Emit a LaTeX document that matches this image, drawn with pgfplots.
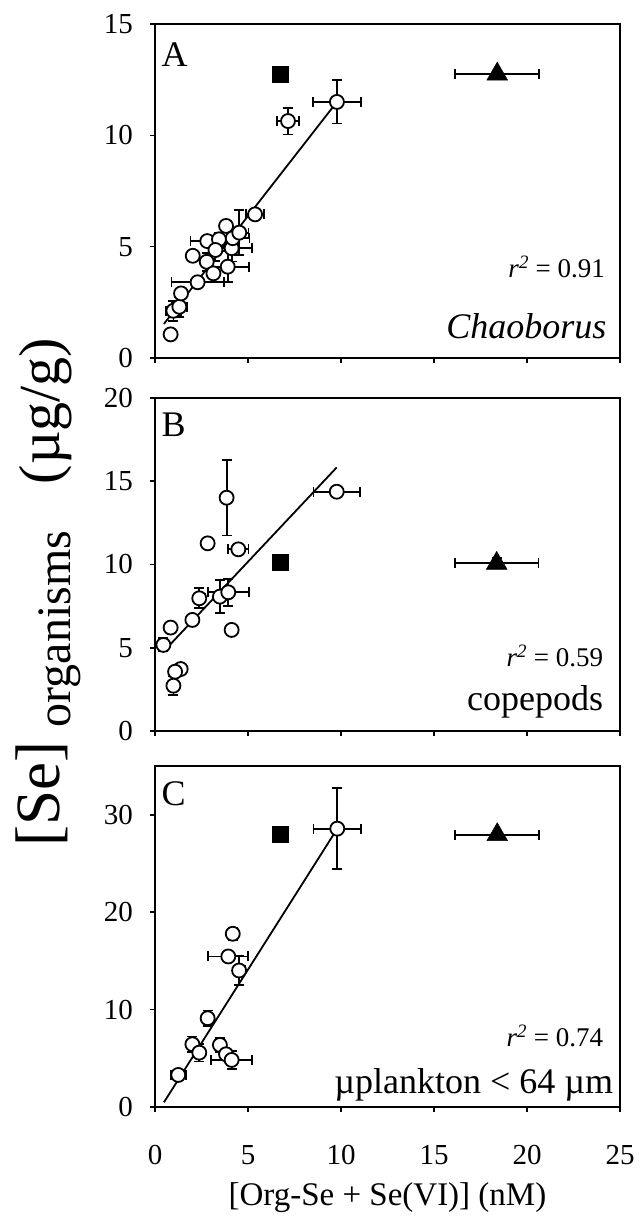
\documentclass[border=0pt]{standalone}
\usepackage{pgfplots}
\pgfplotsset{compat=1.18}
\usepackage{fontspec}
\setmainfont{Liberation Serif}

\pgfplotstableread{
x y ex ey
0.84 1.06 0 0
0.99 2.12 0.4 0.45
1.31 2.30 0.4 0.45
1.40 2.90 0 0
2.29 3.40 1.4 0
2.03 4.59 0 0
2.81 5.25 0.9 0
2.78 4.32 0 0.4
3.14 3.80 0 0
3.44 5.33 0 0.3
3.25 4.85 0 0.5
3.82 5.93 0 0
3.91 4.10 1.15 0.7
4.12 4.93 1.1 0.6
4.18 5.38 0.9 0
4.53 5.63 0.5 1.0
5.38 6.45 0.5 0
7.15 10.64 0.6 0.6
9.78 11.50 1.3 0.97
}\dataA

\pgfplotstableread{
x y ex ey
3.85 14.01 0 2.27
9.77 14.37 1.25 0
2.83 11.27 0 0
4.48 10.91 0.55 0.3
2.38 7.97 0.3 0.6
3.49 8.07 0 1.0
3.94 8.33 1.1 0.8
2.01 6.67 0 0
0.84 6.21 0 0
4.12 6.07 0 0
0.45 5.17 0 0.4
1.38 3.72 0 0
1.08 3.56 0 0.3
0.99 2.72 0 0.55
}\dataB

\pgfplotstableread{
x y ex ey
9.80 28.57 1.28 4.15
4.18 17.78 0 0.6
3.94 15.45 1.07 0.5
4.52 14.01 0.3 1.5
2.83 9.11 0 0.8
2.01 6.44 0 0.8
2.38 5.58 0 0.9
3.49 6.37 0 0.7
3.82 5.41 0 0
4.12 4.83 1.1 0.9
1.25 3.29 0.4 0
}\dataC

\pgfplotsset{
  panel/.style={
    scale only axis, width=465bp,
    xmin=0, xmax=25, xtick={0,5,...,25},
    tick align=outside, xtick pos=left, ytick pos=left,
    major tick length=5bp,
    axis line style={line width=1.6bp},
    every tick/.style={black, line width=1.6bp},
    tick label style={font=\fontsize{29bp}{29bp}\selectfont},
    yticklabel style={inner sep=0pt, anchor=east, xshift=-17bp},
    xticklabel style={inner sep=0pt, anchor=base, yshift=-53bp},
    clip=false,
  },
  ebars/.style={only marks, mark=none,
    error bars/.cd, x dir=both, x explicit, y dir=both, y explicit,
    error bar style={draw=black, line width=1.8bp},
    error mark options={draw=black, line width=1.8bp, mark size=5bp, rotate=90}},
  circ/.style={only marks, mark=*, mark size=7bp,
    mark options={fill=white, draw=black, line width=1.8bp}},
  sq/.style={only marks, mark=square*, mark size=8bp, mark options={fill=black, draw=black}},
  tri/.style={only marks, mark=triangle*, mark size=12bp, mark options={fill=black, draw=black}},
  reg/.style={black, line width=1.8bp, no marks},
}
\tikzset{
  lbl/.style={font=\fontsize{36bp}{36bp}\selectfont, inner sep=0pt},
  rlbl/.style={font=\fontsize{27bp}{27bp}\selectfont, inner sep=0pt, anchor=base east},
}

\begin{document}
\begin{tikzpicture}[x=1bp,y=1bp]
\useasboundingbox (0,0) rectangle (640,1218);

% Panel A
\begin{axis}[panel, at={(155bp,860bp)}, anchor=south west, height=334bp,
  ymin=0, ymax=15, ytick={0,5,10,15}, yticklabels={0,5,10,15}, xticklabels={}]
\addplot[reg] coordinates {(0.48,1.53) (9.78,11.5)};
\addplot[ebars] table[x=x,y=y,x error=ex,y error=ey] {\dataA};
\addplot[ebars] coordinates {(18.4,12.75) +- (2.25,0)};
\addplot[circ] table[x=x,y=y] {\dataA};
\addplot[sq] coordinates {(6.72,12.75)};
\addplot[tri] coordinates {(18.4,12.75)};
\node[lbl, anchor=base west] at (axis cs:0.35,13.08) {A};
\node[rlbl] at (axis cs:24.2,3.62) {\textit{r}\textsuperscript{\textit{2}} = 0.91};
\node[lbl, anchor=base east] at (axis cs:24.28,0.88) {\textit{Chaoborus}};
\end{axis}

% Panel B
\begin{axis}[panel, at={(155bp,487bp)}, anchor=south west, height=333bp,
  ymin=0, ymax=20, ytick={0,5,...,20}, yticklabels={0,5,10,15,20}, xticklabels={}]
\addplot[reg] coordinates {(0.45,4.76) (9.77,15.83)};
\addplot[ebars] table[x=x,y=y,x error=ex,y error=ey] {\dataB};
\addplot[ebars] coordinates {(18.37,10.07) +- (2.25,0.3)};
\addplot[circ] table[x=x,y=y] {\dataB};
\addplot[sq] coordinates {(6.72,10.11)};
\addplot[tri] coordinates {(18.37,10.07)};
\node[lbl, anchor=base west] at (axis cs:0.35,17.68) {B};
\node[rlbl] at (axis cs:24.1,3.86) {\textit{r}\textsuperscript{\textit{2}} = 0.59};
\node[lbl, anchor=base east] at (axis cs:24.1,1.26) {copepods};
\end{axis}

% Panel C
\begin{axis}[panel, at={(155bp,111bp)}, anchor=south west, height=341bp,
  ymin=0, ymax=35, ytick={0,10,20,30}, yticklabels={0,10,20,30},
  xticklabels={0,5,10,15,20,25}]
\addplot[reg] coordinates {(0.48,0.48) (9.80,28.57)};
\addplot[ebars] table[x=x,y=y,x error=ex,y error=ey] {\dataC};
\addplot[ebars] coordinates {(18.4,27.95) +- (2.25,0)};
\addplot[circ] table[x=x,y=y] {\dataC};
\addplot[sq] coordinates {(6.72,27.95)};
\addplot[tri] coordinates {(18.4,27.95)};
\node[lbl, anchor=base west] at (axis cs:0.35,30.9) {C};
\node[rlbl] at (axis cs:24.1,6.2) {\textit{r}\textsuperscript{\textit{2}} = 0.74};
\node[lbl, anchor=base east] at (axis cs:24.64,1.41) {µplankton < 64 µm};
\end{axis}

% x label
\node[font=\fontsize{33bp}{33bp}\selectfont, anchor=base, inner sep=0pt] at (387.5,12) {[Org-Se + Se(VI)] (nM)};
% y label
\node[rotate=90, anchor=base, inner sep=0pt, font=\fontsize{63bp}{63bp}\selectfont] at (59,424) {[Se]};
\node[rotate=90, anchor=base, inner sep=0pt, font=\fontsize{48bp}{48bp}\selectfont] at (70,589) {organisms};
\node[rotate=90, anchor=base, inner sep=0pt, font=\fontsize{58bp}{58bp}\selectfont] at (59,807) {(µg/g)};
\end{tikzpicture}
\end{document}
